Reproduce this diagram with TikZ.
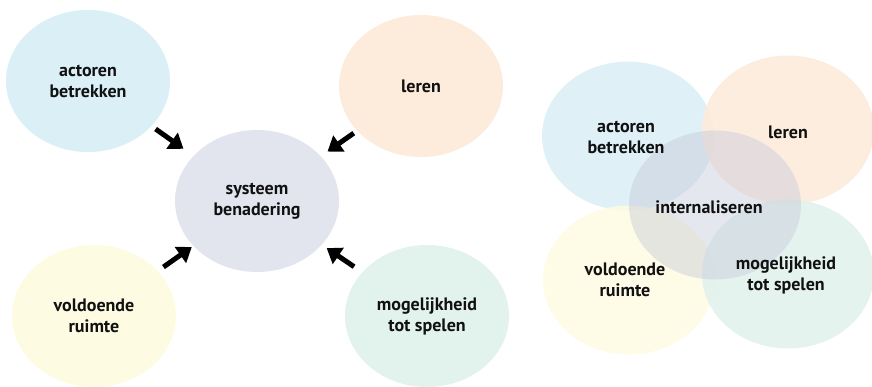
\documentclass[tikz,border=0pt]{standalone}
\usepackage{fontspec}
\setmainfont{PT Sans}
\usetikzlibrary{shapes.geometric,arrows.meta,calc}
\definecolor{cblue}{HTML}{DBEFF6}
\definecolor{corange}{HTML}{FDEBDC}
\definecolor{cgrey}{HTML}{E3E5EE}
\definecolor{cyellow}{HTML}{FEFBE3}
\definecolor{cmint}{HTML}{E2F2EC}
\definecolor{cmid}{HTML}{C6C9DA}
\definecolor{ctext}{HTML}{111111}
\tikzset{
  bubble/.style={ellipse, inner sep=0pt, minimum width=164pt, minimum height=142pt,
    text=ctext, align=center, font=\bfseries\fontsize{18}{21}\selectfont},
  bigbubble/.style={bubble, minimum width=172pt, minimum height=149pt},
  label/.style={text=ctext, align=center, font=\bfseries\fontsize{18}{21}\selectfont},
  fatarrow/.style={line width=5pt, -{Triangle[length=14pt,width=19pt]}}
}
\begin{document}
\begin{tikzpicture}[x=1pt,y=1pt]
\useasboundingbox (0,0) rectangle (872,386);
% left part
\node[bubble, fill=cblue]   (la) at (88,305)  {actoren\\betrekken};
\node[bubble, fill=corange] (ll) at (421,300) {leren};
\node[bubble, fill=cgrey]   (ls) at (257,185) {systeem\\benadering};
\node[bubble, fill=cyellow] (lv) at (94,70)   {voldoende\\ruimte};
\node[bubble, fill=cmint]   (lm) at (427,70)  {mogelijkheid\\tot spelen};
\draw[fatarrow] ($(la)!0.40!(ls)$) -- ($(la)!0.565!(ls)$);
\draw[fatarrow] ($(ll)!0.41!(ls)$) -- ($(ll)!0.57!(ls)$);
\draw[fatarrow] ($(lv)!0.426!(ls)$) -- ($(lv)!0.60!(ls)$);
\draw[fatarrow] ($(lm)!0.429!(ls)$) -- ($(lm)!0.59!(ls)$);
% right part
\node[bigbubble, fill=cblue, fill opacity=0.9]   (ra) at (628,250) {};
\node[bigbubble, fill=corange, fill opacity=0.9] (rl) at (788,256) {};
\node[bigbubble, fill=cyellow, fill opacity=0.9] (rv) at (629,106) {};
\node[bigbubble, fill=cmint, fill opacity=0.9]   (rm) at (788,112) {};
\node[bigbubble, fill=cmid, fill opacity=0.45]   (ri) at (715,181) {};
\node[label] (tra) at (626,249) {actoren\\betrekken};
\node[label] (trl) at (788,254) {leren};
\node[label] (tri) at (709,179) {internaliseren};
\node[label] (trv) at (625,106) {voldoende\\ruimte};
\node[label] (trm) at (786,111) {mogelijkheid\\tot spelen};
\end{tikzpicture}
\end{document}
